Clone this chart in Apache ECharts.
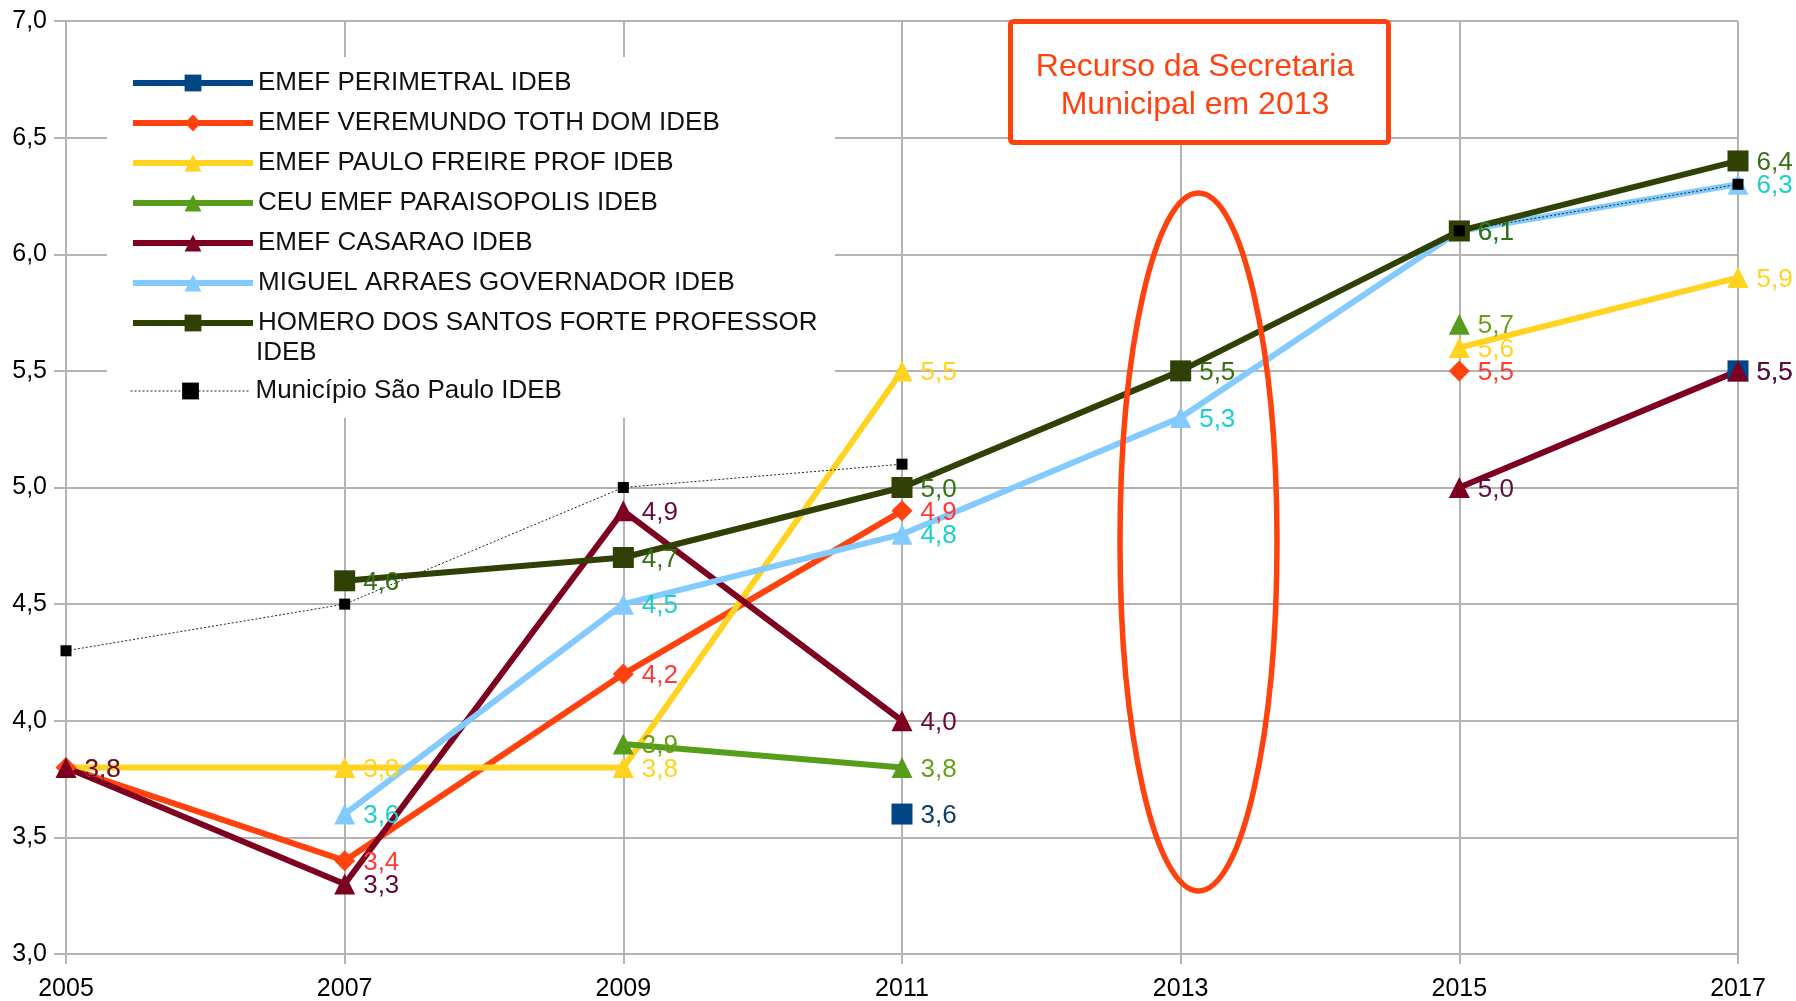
<!DOCTYPE html>
<html>
<head>
<meta charset="utf-8">
<title>IDEB</title>
<script src="https://cdn.jsdelivr.net/npm/echarts@6/dist/echarts.min.js"></script>
<style>
  html, body { margin: 0; padding: 0; background: #fff; }
  #chart { width: 1796px; height: 1001px; }
</style>
</head>
<body>
<div id="chart"></div>
<script>
// anos (eixo x)
var years = ['2005', '2007', '2009', '2011', '2013', '2015', '2017']
var yTicks = [3, 7, 0.5] // min, max, passo

// notas IDEB por escola
var perimetral = [null, null, null, 3.6, null, null, 5.5]
var veremundo = [3.8, 3.4, 4.2, 4.9, null, 5.5, null]
var pauloFreire = [3.8, 3.8, 3.8, 5.5, null, 5.6, 5.9]
var paraisopolis = [null, null, 3.9, 3.8, null, 5.7, null]
var casarao = [3.8, 3.3, 4.9, 4.0, null, 5.0, 5.5]
var miguelArraes = [null, 3.6, 4.5, 4.8, 5.3, 6.1, 6.3]
var homero = [null, 4.6, 4.7, 5.0, 5.5, 6.1, 6.4]
var municipio = [4.3, 4.5, 5.0, 5.1, null, 6.1, 6.3]

var FONT = '"Liberation Sans", Arial, sans-serif'
var GRID_COLOR = '#b3b3b3'
var HOMERO_NAME = 'HOMERO DOS SANTOS FORTE PROFESSOR IDEB'

function fmt(v) {
    return Number(v).toFixed(1).replace('.', ',')
}

function makeSeries(name, data, color, symbol, labelColor) {
    return {
        name: name,
        type: 'line',
        data: data,
        symbol: symbol,
        symbolSize: 21,
        showAllSymbol: true,
        connectNulls: false,
        lineStyle: { color: color, width: 6 },
        itemStyle: { color: color, borderWidth: 0 },
        label: {
            show: true,
            position: 'right',
            distance: 8,
            offset: [0, 2],
            color: labelColor,
            fontFamily: FONT,
            fontSize: 26,
            formatter: function(p) { return fmt(p.value) }
        },
        emphasis: { disabled: true }
    }
}

var seriesList = [
    makeSeries('EMEF PERIMETRAL IDEB', perimetral, '#004586', 'rect', '#0f3e6e'),
    makeSeries('EMEF VEREMUNDO TOTH DOM IDEB', veremundo, '#ff420e', 'diamond', '#ff3838'),
    makeSeries('EMEF PAULO FREIRE PROF IDEB', pauloFreire, '#ffd320', 'triangle', '#ffd320'),
    makeSeries('CEU EMEF PARAISOPOLIS IDEB', paraisopolis, '#579d1c', 'triangle', '#6a9f1a'),
    makeSeries('EMEF CASARAO IDEB', casarao, '#7e0021', 'triangle', '#65093a'),
    makeSeries('MIGUEL ARRAES GOVERNADOR IDEB', miguelArraes, '#83caff', 'triangle', '#1acfcf'),
    makeSeries(HOMERO_NAME, homero, '#314004', 'rect', '#357012'),
    {
        name: 'Município São Paulo IDEB',
        type: 'line',
        data: municipio,
        symbol: 'rect',
        symbolSize: 11,
        showAllSymbol: true,
        lineStyle: { color: '#222', width: 1, type: [2, 2] },
        itemStyle: { color: '#000', borderWidth: 0 },
        emphasis: { disabled: true }
    }
]

var legendText = {
    fontFamily: FONT,
    fontSize: 26,
    lineHeight: 30,
    color: '#111'
}

var chart = echarts.init(document.getElementById('chart'))
chart.setOption({
    animation: false,
    backgroundColor: '#fff',
    textStyle: { fontFamily: FONT },
    grid: {
        left: 66,
        right: 58,
        top: 21,
        bottom: 47,
        containLabel: false,
        outerBoundsMode: 'none'
    },
    legend: [
        {
            orient: 'vertical',
            left: 130,
            top: 68,
            padding: 0,
            itemWidth: 120,
            itemHeight: 21,
            itemGap: 10,
            selectedMode: false,
            textStyle: legendText,
            lineStyle: { width: 'inherit' },
            data: seriesList.slice(0, 7).map(function(s) { return s.name }),
            formatter: function(name) {
                return name === HOMERO_NAME ? 'HOMERO DOS SANTOS FORTE PROFESSOR' : name
            },
            z: 5
        },
        {
            orient: 'vertical',
            left: 130,
            top: 376,
            padding: 0,
            itemWidth: 120,
            itemHeight: 21,
            selectedMode: false,
            textStyle: legendText,
            lineStyle: { width: 'inherit' },
            data: ['Município São Paulo IDEB'],
            z: 5
        }
    ],
    xAxis: {
        type: 'category',
        data: years,
        boundaryGap: false,
        axisLine: { show: true, lineStyle: { color: GRID_COLOR, width: 2 } },
        axisTick: { show: true, inside: false, length: 10, alignWithLabel: true, lineStyle: { color: GRID_COLOR, width: 2 } },
        splitLine: { show: true, lineStyle: { color: GRID_COLOR, width: 2 } },
        axisLabel: { color: '#000', fontFamily: FONT, fontSize: 25, margin: 23, interval: 0 }
    },
    yAxis: {
        type: 'value',
        min: yTicks[0],
        max: yTicks[1],
        interval: yTicks[2],
        axisLine: { show: true, lineStyle: { color: GRID_COLOR, width: 2 } },
        axisTick: { show: true, inside: false, length: 12, lineStyle: { color: GRID_COLOR, width: 2 } },
        splitLine: { show: true, lineStyle: { color: GRID_COLOR, width: 2 } },
        axisLabel: {
            color: '#000',
            fontFamily: FONT,
            fontSize: 25,
            margin: 19,
            formatter: function(v) { return fmt(v) }
        }
    },
    graphic: [
        // fundo branco da legenda
        {
            type: 'rect',
            shape: { x: 107, y: 57, width: 728, height: 361 },
            style: { fill: '#fff' },
            z: 1
        },
        {
            type: 'text',
            style: { text: 'IDEB', x: 256, y: 353, font: '26px ' + FONT, fill: '#111', verticalAlign: 'middle' },
            z: 6
        },
        // caixa de anotação
        {
            type: 'rect',
            shape: { x: 1010.5, y: 21.5, width: 378, height: 121, r: 3 },
            style: { fill: '#fff', stroke: '#ff420e', lineWidth: 5 },
            z: 5
        },
        {
            type: 'text',
            style: {
                text: 'Recurso da Secretaria\nMunicipal em 2013',
                x: 1195,
                y: 86,
                font: '32px ' + FONT,
                lineHeight: 38,
                fill: '#ff420e',
                align: 'center',
                verticalAlign: 'middle'
            },
            z: 6
        },
        {
            type: 'ellipse',
            shape: { cx: 1198.5, cy: 542, rx: 78.5, ry: 349 },
            style: { fill: 'none', stroke: '#ff420e', lineWidth: 5.5 },
            z: 6
        }
    ],
    series: seriesList
})
</script>
</body>
</html>
